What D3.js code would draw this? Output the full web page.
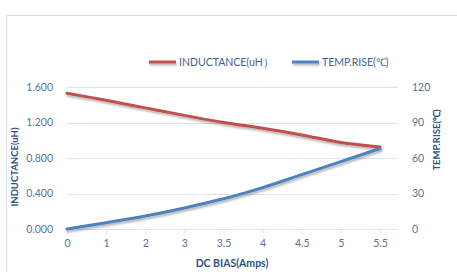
<!DOCTYPE html>
<html>
<head>
<meta charset="utf-8">
<script src="https://cdn.jsdelivr.net/npm/d3@7"></script>
<style>
  body { margin: 0; background: #fff; }
  svg { display: block; font-family: Lato, "Open Sans", sans-serif; }
</style>
</head>
<body>
<svg id="chart"></svg>
<script>
let categories = ['0', '1', '2', '3', '3.5', '4', '4.5', '5', '5.5']
let inductance = [1.53, 1.45, 1.365, 1.28, 1.20, 1.135, 1.06, 0.975, 0.925]
let tempRise = [0, 5.3, 11, 17.8, 25.5, 35, 46, 57, 68]
let leftTicks = [0, 0.4, 0.8, 1.2, 1.6]
let rightTicks = [0, 30, 60, 90, 120]

let width = 457
let height = 272

let svg = d3.select('#chart')
  .attr('width', width)
  .attr('height', height)

// chart frame
svg.append('rect')
  .attr('x', 6.5).attr('y', 15.5)
  .attr('width', 470).attr('height', 280)
  .attr('fill', 'none')
  .attr('stroke', '#d3dcea')

let defs = svg.append('defs')
let shadow = defs.append('filter').attr('id', 'shadow')
  .attr('filterUnits', 'userSpaceOnUse')
  .attr('x', 0).attr('y', 0).attr('width', width).attr('height', height)
shadow.append('feDropShadow')
  .attr('dx', 1).attr('dy', 2).attr('stdDeviation', 1.2)
  .attr('flood-color', '#000').attr('flood-opacity', 0.3)

let xScale = d3.scalePoint()
  .domain(categories)
  .range([67, 380])

let yLeft = d3.scaleLinear().domain([0, 1.6]).range([229, 87])
let yRight = d3.scaleLinear().domain([0, 120]).range([229, 87])

let gridRight = 398

// grid lines
svg.append('g')
  .selectAll('line')
  .data(leftTicks)
  .enter()
  .append('line')
  .attr('x1', 67).attr('x2', gridRight)
  .attr('y1', d => Math.round(yLeft(d)) + 0.5)
  .attr('y2', d => Math.round(yLeft(d)) + 0.5)
  .attr('stroke', '#d9e4f2')

// x axis
let xAxis = d3.axisBottom(xScale).tickSize(4).tickSizeOuter(0).tickPadding(6)
let gx = svg.append('g')
  .attr('id', 'x-axis')
  .attr('transform', 'translate(0,229.5)')
  .call(xAxis)
gx.select('.domain').remove()
gx.selectAll('.tick line').attr('stroke', '#d9e4f2')
gx.selectAll('.tick text')
  .attr('fill', '#5b7399')
  .style('font-size', '10.5px')
  .style('font-family', 'Lato, sans-serif')

// left axis
let yAxisL = d3.axisLeft(yLeft).tickValues(leftTicks).tickFormat(d3.format('.3f')).tickSize(0).tickPadding(14)
let gl = svg.append('g')
  .attr('id', 'y-axis')
  .attr('transform', 'translate(67,0)')
  .call(yAxisL)
gl.select('.domain').remove()
gl.selectAll('.tick text')
  .attr('fill', '#5b7399')
  .style('font-size', '10.5px')
  .style('font-family', 'Lato, sans-serif')

// right axis
let yAxisR = d3.axisRight(yRight).tickValues(rightTicks).tickSize(0).tickPadding(14)
let gr = svg.append('g')
  .attr('transform', 'translate(' + gridRight + ',0)')
  .call(yAxisR)
gr.select('.domain').remove()
gr.selectAll('.tick text')
  .attr('fill', '#5b7399')
  .style('font-size', '10.5px')
  .style('font-family', 'Lato, sans-serif')

// lines
let lineL = d3.line()
  .x((d, i) => xScale(categories[i]))
  .y(d => yLeft(d))
  .curve(d3.curveCatmullRom)

let lineR = d3.line()
  .x((d, i) => xScale(categories[i]))
  .y(d => yRight(d))
  .curve(d3.curveCatmullRom)

svg.append('path')
  .datum(inductance)
  .attr('d', lineL)
  .attr('fill', 'none')
  .attr('stroke', '#c0504d')
  .attr('stroke-width', 3)
  .attr('stroke-linecap', 'round')
  .attr('filter', 'url(#shadow)')

svg.append('path')
  .datum(tempRise)
  .attr('d', lineR)
  .attr('fill', 'none')
  .attr('stroke', '#4f81bd')
  .attr('stroke-width', 3)
  .attr('stroke-linecap', 'round')
  .attr('filter', 'url(#shadow)')

// axis titles
svg.append('text')
  .attr('transform', 'translate(18,167) rotate(-90)')
  .attr('text-anchor', 'middle')
  .attr('fill', '#2f4f7f')
  .style('font-size', '9.5px')
  .style('font-weight', 'bold')
  .text('INDUCTANCE(uH)')

svg.append('text')
  .attr('transform', 'translate(440,140) rotate(-90)')
  .attr('text-anchor', 'middle')
  .attr('fill', '#2f4f7f')
  .style('font-size', '9.5px')
  .style('font-weight', 'bold')
  .text('TEMP.RISE(℃)')

svg.append('text')
  .attr('x', 232).attr('y', 267)
  .attr('text-anchor', 'middle')
  .attr('fill', '#2f4f7f')
  .style('font-size', '10.5px')
  .style('font-weight', 'bold')
  .text('DC BIAS(Amps)')

// legend
let legend = [
  { name: 'INDUCTANCE(uH）', color: '#c0504d', x: 149 },
  { name: 'TEMP.RISE(℃)', color: '#4f81bd', x: 292 }
]
let lg = svg.append('g').selectAll('g').data(legend).enter().append('g')
lg.append('line')
  .attr('x1', d => d.x).attr('x2', d => d.x + 27)
  .attr('y1', 62).attr('y2', 62)
  .attr('stroke', d => d.color)
  .attr('stroke-width', 3)
  .attr('filter', 'url(#shadow)')
lg.append('text')
  .attr('x', d => d.x + 30)
  .attr('y', 65.5)
  .attr('fill', '#44618f')
  .style('font-size', '10.5px')
  .text(d => d.name)
</script>
</body>
</html>
